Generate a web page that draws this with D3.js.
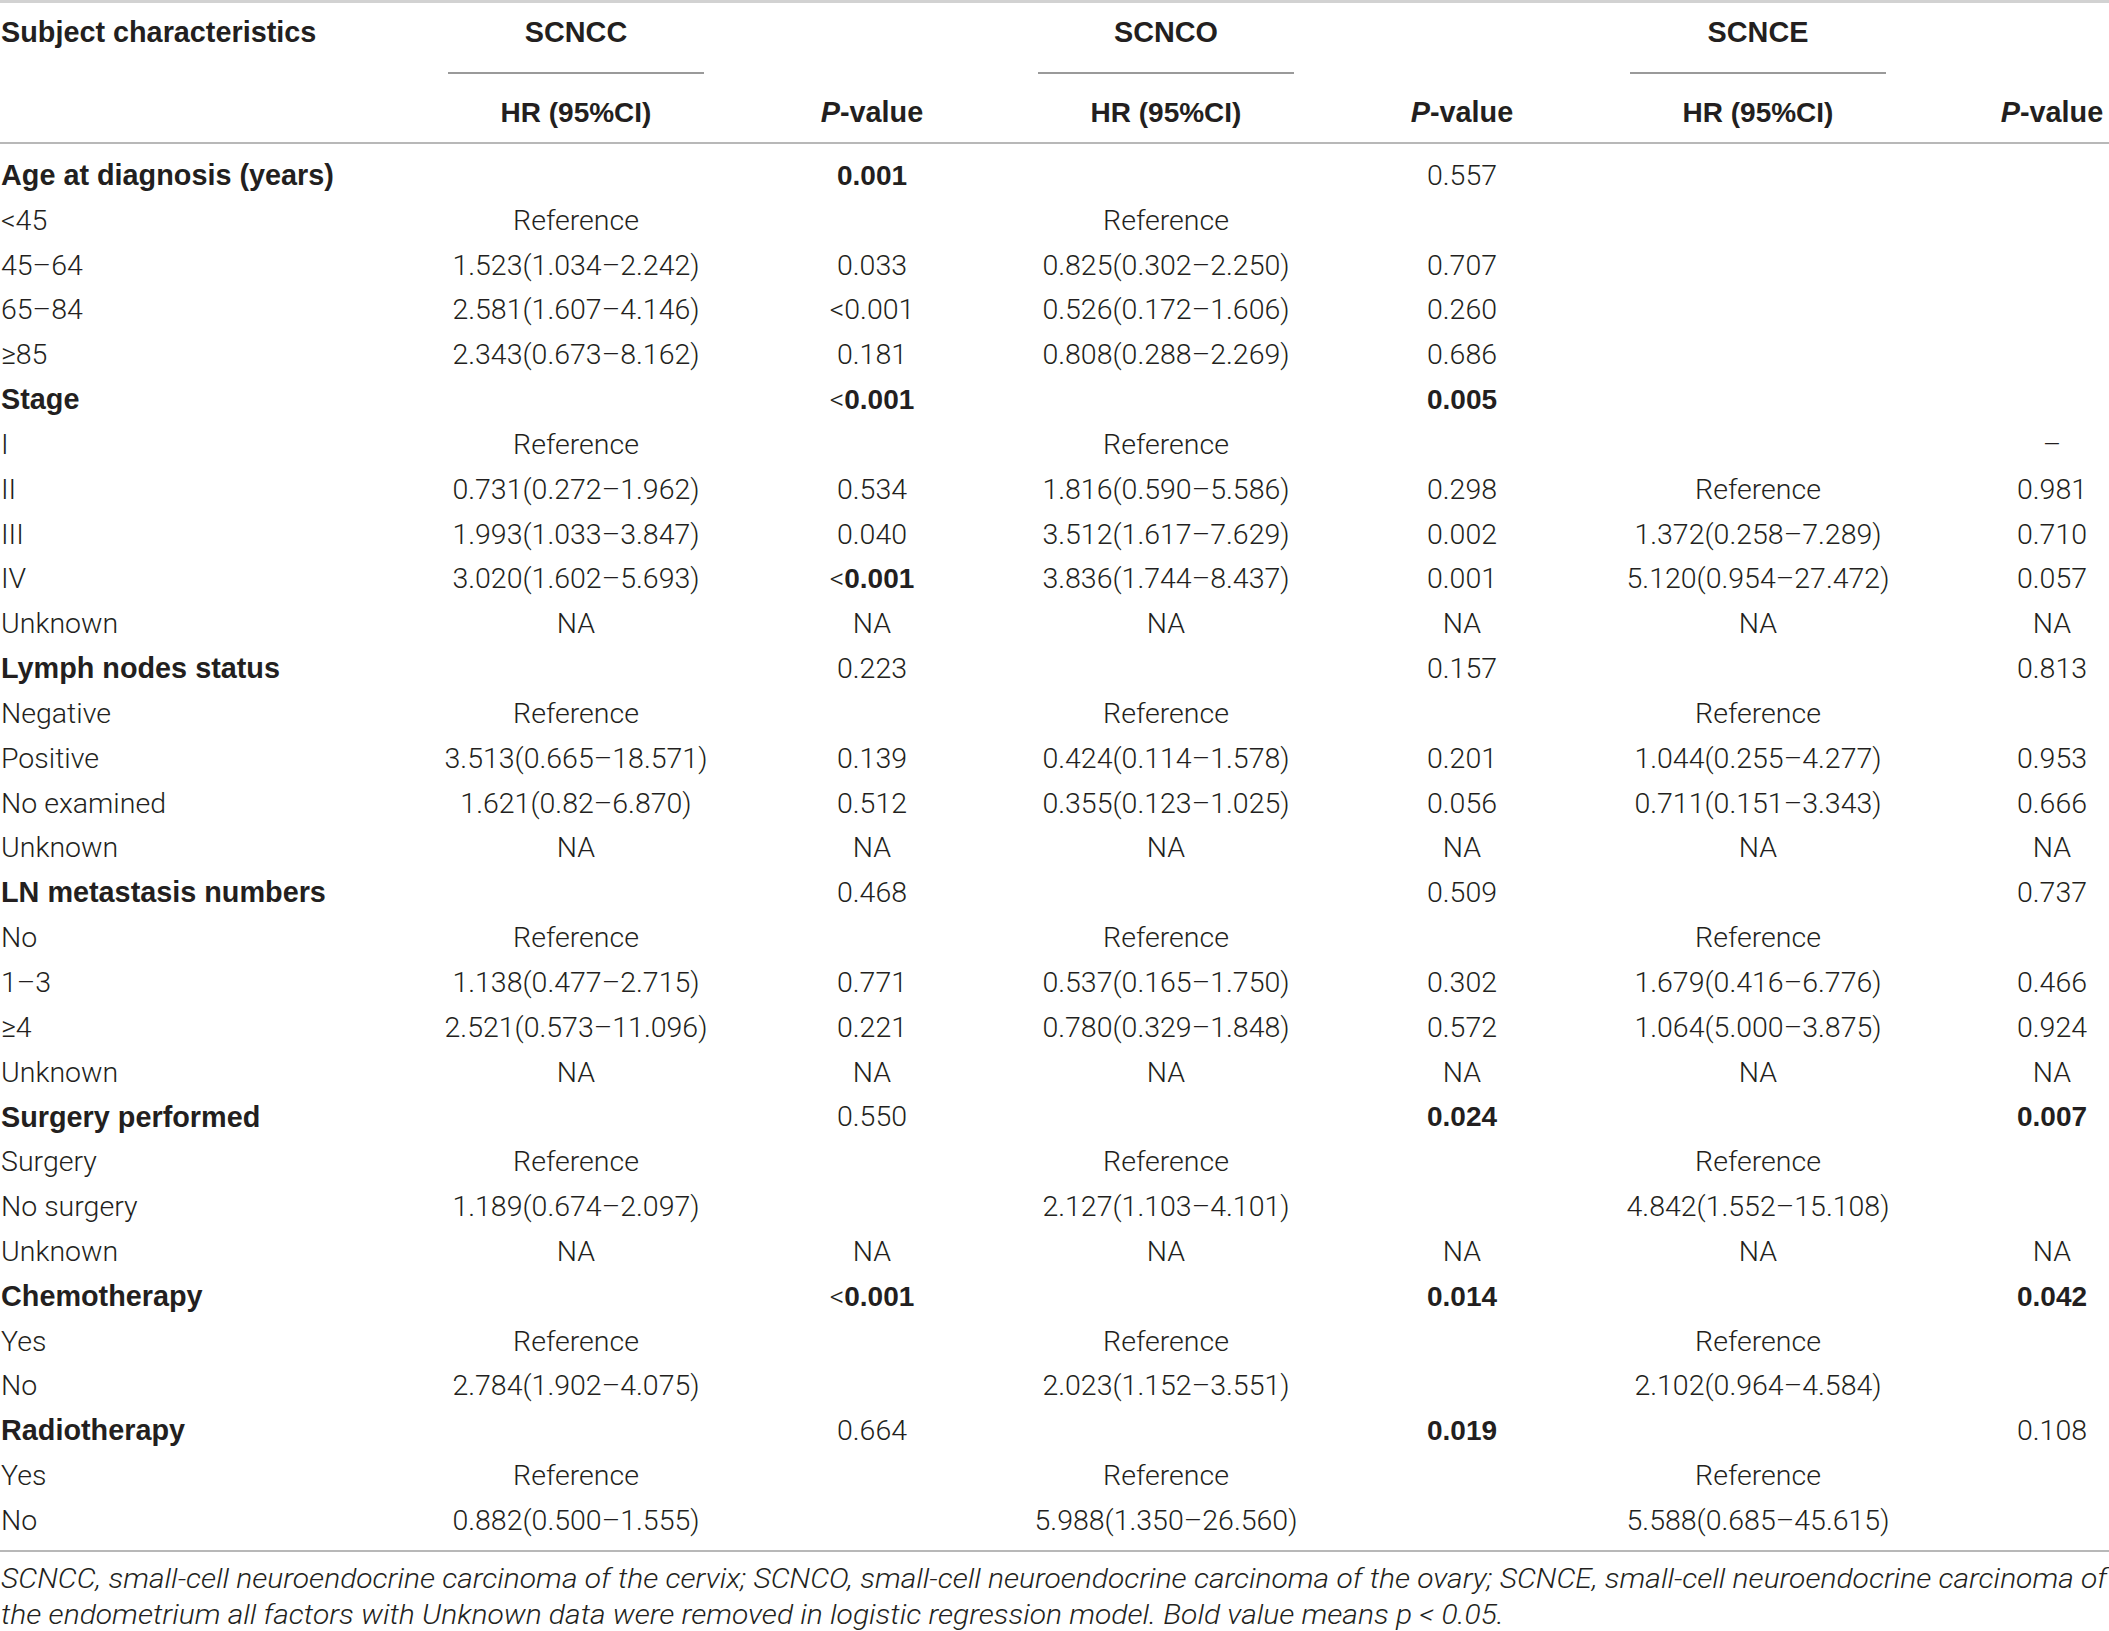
<!DOCTYPE html>
<html>
<head>
<meta charset="utf-8">
<script src="https://cdn.jsdelivr.net/npm/d3@7"></script>
<style>
  body { margin: 0; background: #fff; }
  text { font-family: Roboto, "Liberation Sans", sans-serif; fill: #231f20; }
  .b { font-family: "Liberation Sans", Arial, sans-serif; font-weight: 700; }
</style>
</head>
<body>
<script>
// table content
const groups = ["SCNCC", "SCNCO", "SCNCE"];
const rowLabels = [
  "Age at diagnosis (years)", "<45", "45–64", "65–84", "≥85",
  "Stage", "I", "II", "III", "IV", "Unknown",
  "Lymph nodes status", "Negative", "Positive", "No examined", "Unknown",
  "LN metastasis numbers", "No", "1–3", "≥4", "Unknown",
  "Surgery performed", "Surgery", "No surgery", "Unknown",
  "Chemotherapy", "Yes", "No",
  "Radiotherapy", "Yes", "No"
];
const headingRows = [0, 5, 11, 16, 21, 25, 28];

const scnccHR = ["", "Reference", "1.523(1.034–2.242)", "2.581(1.607–4.146)", "2.343(0.673–8.162)",
  "", "Reference", "0.731(0.272–1.962)", "1.993(1.033–3.847)", "3.020(1.602–5.693)", "NA",
  "", "Reference", "3.513(0.665–18.571)", "1.621(0.82–6.870)", "NA",
  "", "Reference", "1.138(0.477–2.715)", "2.521(0.573–11.096)", "NA",
  "", "Reference", "1.189(0.674–2.097)", "NA",
  "", "Reference", "2.784(1.902–4.075)",
  "", "Reference", "0.882(0.500–1.555)"];
const scnccP = ["0.001", "", "0.033", "<0.001", "0.181",
  "<0.001", "", "0.534", "0.040", "<0.001", "NA",
  "0.223", "", "0.139", "0.512", "NA",
  "0.468", "", "0.771", "0.221", "NA",
  "0.550", "", "", "NA",
  "<0.001", "", "",
  "0.664", "", ""];
const scnccBold = [0, 5, 9, 25];

const scncoHR = ["", "Reference", "0.825(0.302–2.250)", "0.526(0.172–1.606)", "0.808(0.288–2.269)",
  "", "Reference", "1.816(0.590–5.586)", "3.512(1.617–7.629)", "3.836(1.744–8.437)", "NA",
  "", "Reference", "0.424(0.114–1.578)", "0.355(0.123–1.025)", "NA",
  "", "Reference", "0.537(0.165–1.750)", "0.780(0.329–1.848)", "NA",
  "", "Reference", "2.127(1.103–4.101)", "NA",
  "", "Reference", "2.023(1.152–3.551)",
  "", "Reference", "5.988(1.350–26.560)"];
const scncoP = ["0.557", "", "0.707", "0.260", "0.686",
  "0.005", "", "0.298", "0.002", "0.001", "NA",
  "0.157", "", "0.201", "0.056", "NA",
  "0.509", "", "0.302", "0.572", "NA",
  "0.024", "", "", "NA",
  "0.014", "", "",
  "0.019", "", ""];
const scncoBold = [5, 21, 25, 28];

const scnceHR = ["", "", "", "", "",
  "", "", "Reference", "1.372(0.258–7.289)", "5.120(0.954–27.472)", "NA",
  "", "Reference", "1.044(0.255–4.277)", "0.711(0.151–3.343)", "NA",
  "", "Reference", "1.679(0.416–6.776)", "1.064(5.000–3.875)", "NA",
  "", "Reference", "4.842(1.552–15.108)", "NA",
  "", "Reference", "2.102(0.964–4.584)",
  "", "Reference", "5.588(0.685–45.615)"];
const scnceP = ["", "", "", "", "",
  "", "–", "0.981", "0.710", "0.057", "NA",
  "0.813", "", "0.953", "0.666", "NA",
  "0.737", "", "0.466", "0.924", "NA",
  "0.007", "", "", "NA",
  "0.042", "", "",
  "0.108", "", ""];
const scnceBold = [21, 25];

const footnote = [
  "SCNCC, small-cell neuroendocrine carcinoma of the cervix; SCNCO, small-cell neuroendocrine carcinoma of the ovary; SCNCE, small-cell neuroendocrine carcinoma of",
  "the endometrium all factors with Unknown data were removed in logistic regression model. Bold value means p < 0.05."
];

const W = 2109, H = 1631, FS = 28.5, FSB = 28.8;
const svg = d3.select("body").append("svg").attr("width", W).attr("height", H);

const columns = [
  {hr: scnccHR, p: scnccP, bold: scnccBold},
  {hr: scncoHR, p: scncoP, bold: scncoBold},
  {hr: scnceHR, p: scnceP, bold: scnceBold}
];

// horizontal positions of the column centres
const x = d3.scaleOrdinal()
  .domain(["hr0", "p0", "hr1", "p1", "hr2", "p2"])
  .range([576, 872, 1166, 1462, 1758, 2052]);
const y = d3.scalePoint().domain(d3.range(rowLabels.length)).range([175, 1520]);

// rules
svg.append("line").attr("x1", 0).attr("x2", W).attr("y1", 1.5).attr("y2", 1.5)
  .attr("stroke", "#d2d2d2").attr("stroke-width", 3);
svg.append("line").attr("x1", 0).attr("x2", W).attr("y1", 143).attr("y2", 143)
  .attr("stroke", "#b8b8b8").attr("stroke-width", 2);
svg.append("line").attr("x1", 0).attr("x2", W).attr("y1", 1551).attr("y2", 1551)
  .attr("stroke", "#b8b8b8").attr("stroke-width", 2);

// header
svg.append("text").attr("class", "b").attr("x", 1).attr("y", 32).attr("dy", "0.35em")
  .attr("font-size", FSB).text("Subject characteristics");

groups.forEach((g, i) => {
  const cx = x("hr" + i);
  svg.append("text").attr("class", "b").attr("x", cx).attr("y", 32).attr("dy", "0.35em")
    .attr("text-anchor", "middle").attr("font-size", FSB).text(g);
  svg.append("line").attr("x1", cx - 128).attr("x2", cx + 128).attr("y1", 73).attr("y2", 73)
    .attr("stroke", "#9a9a9a").attr("stroke-width", 2);
  svg.append("text").attr("class", "b").attr("x", cx).attr("y", 112).attr("dy", "0.35em")
    .attr("text-anchor", "middle").attr("font-size", FSB - 0.8).text("HR (95%CI)");
  const pt = svg.append("text").attr("class", "b").attr("x", x("p" + i)).attr("y", 112).attr("dy", "0.35em")
    .attr("text-anchor", "middle").attr("font-size", FSB);
  pt.append("tspan").attr("font-style", "italic").text("P");
  pt.append("tspan").text("-value");
});

// row labels
svg.append("g").selectAll("text").data(rowLabels).join("text")
  .attr("class", (d, i) => headingRows.includes(i) ? "b" : null)
  .attr("x", 1).attr("y", (d, i) => y(i)).attr("dy", "0.35em")
  .attr("font-size", (d, i) => headingRows.includes(i) ? FSB : FS)
  .attr("font-weight", (d, i) => headingRows.includes(i) ? 700 : 300)
  .text(d => d);

// body cells
columns.forEach((col, ci) => {
  svg.append("g").selectAll("text").data(col.hr).join("text")
    .attr("x", x("hr" + ci)).attr("y", (d, i) => y(i)).attr("dy", "0.35em")
    .attr("text-anchor", "middle").attr("font-size", FS).attr("font-weight", 300)
    .text(d => d);

  svg.append("g").selectAll("text").data(col.p).join("text")
    .attr("x", x("p" + ci)).attr("y", (d, i) => y(i)).attr("dy", "0.35em")
    .attr("text-anchor", "middle").attr("font-size", FS).attr("font-weight", 300)
    .each(function(d, i) {
      const t = d3.select(this);
      if (!col.bold.includes(i)) { t.text(d); return; }
      if (d.startsWith("<")) t.append("tspan").text("<");
      t.append("tspan").attr("class", "b").attr("font-size", FSB - 0.8).text(d.replace("<", ""));
    });
});

// footnote, stretched so the first line spans the full width as in the source
const notes = svg.append("g").selectAll("text").data(footnote).join("text")
  .attr("x", 1).attr("y", (d, i) => 1578 + i * 36).attr("dy", "0.35em")
  .attr("font-size", 28).attr("font-style", "italic").attr("font-weight", 300)
  .text(d => d);
const natural = notes.nodes().map(n => n.getComputedTextLength());
const stretch = 2106 / natural[0];
notes.attr("textLength", (d, i) => natural[i] * stretch)
  .attr("lengthAdjust", "spacingAndGlyphs");
</script>
</body>
</html>
